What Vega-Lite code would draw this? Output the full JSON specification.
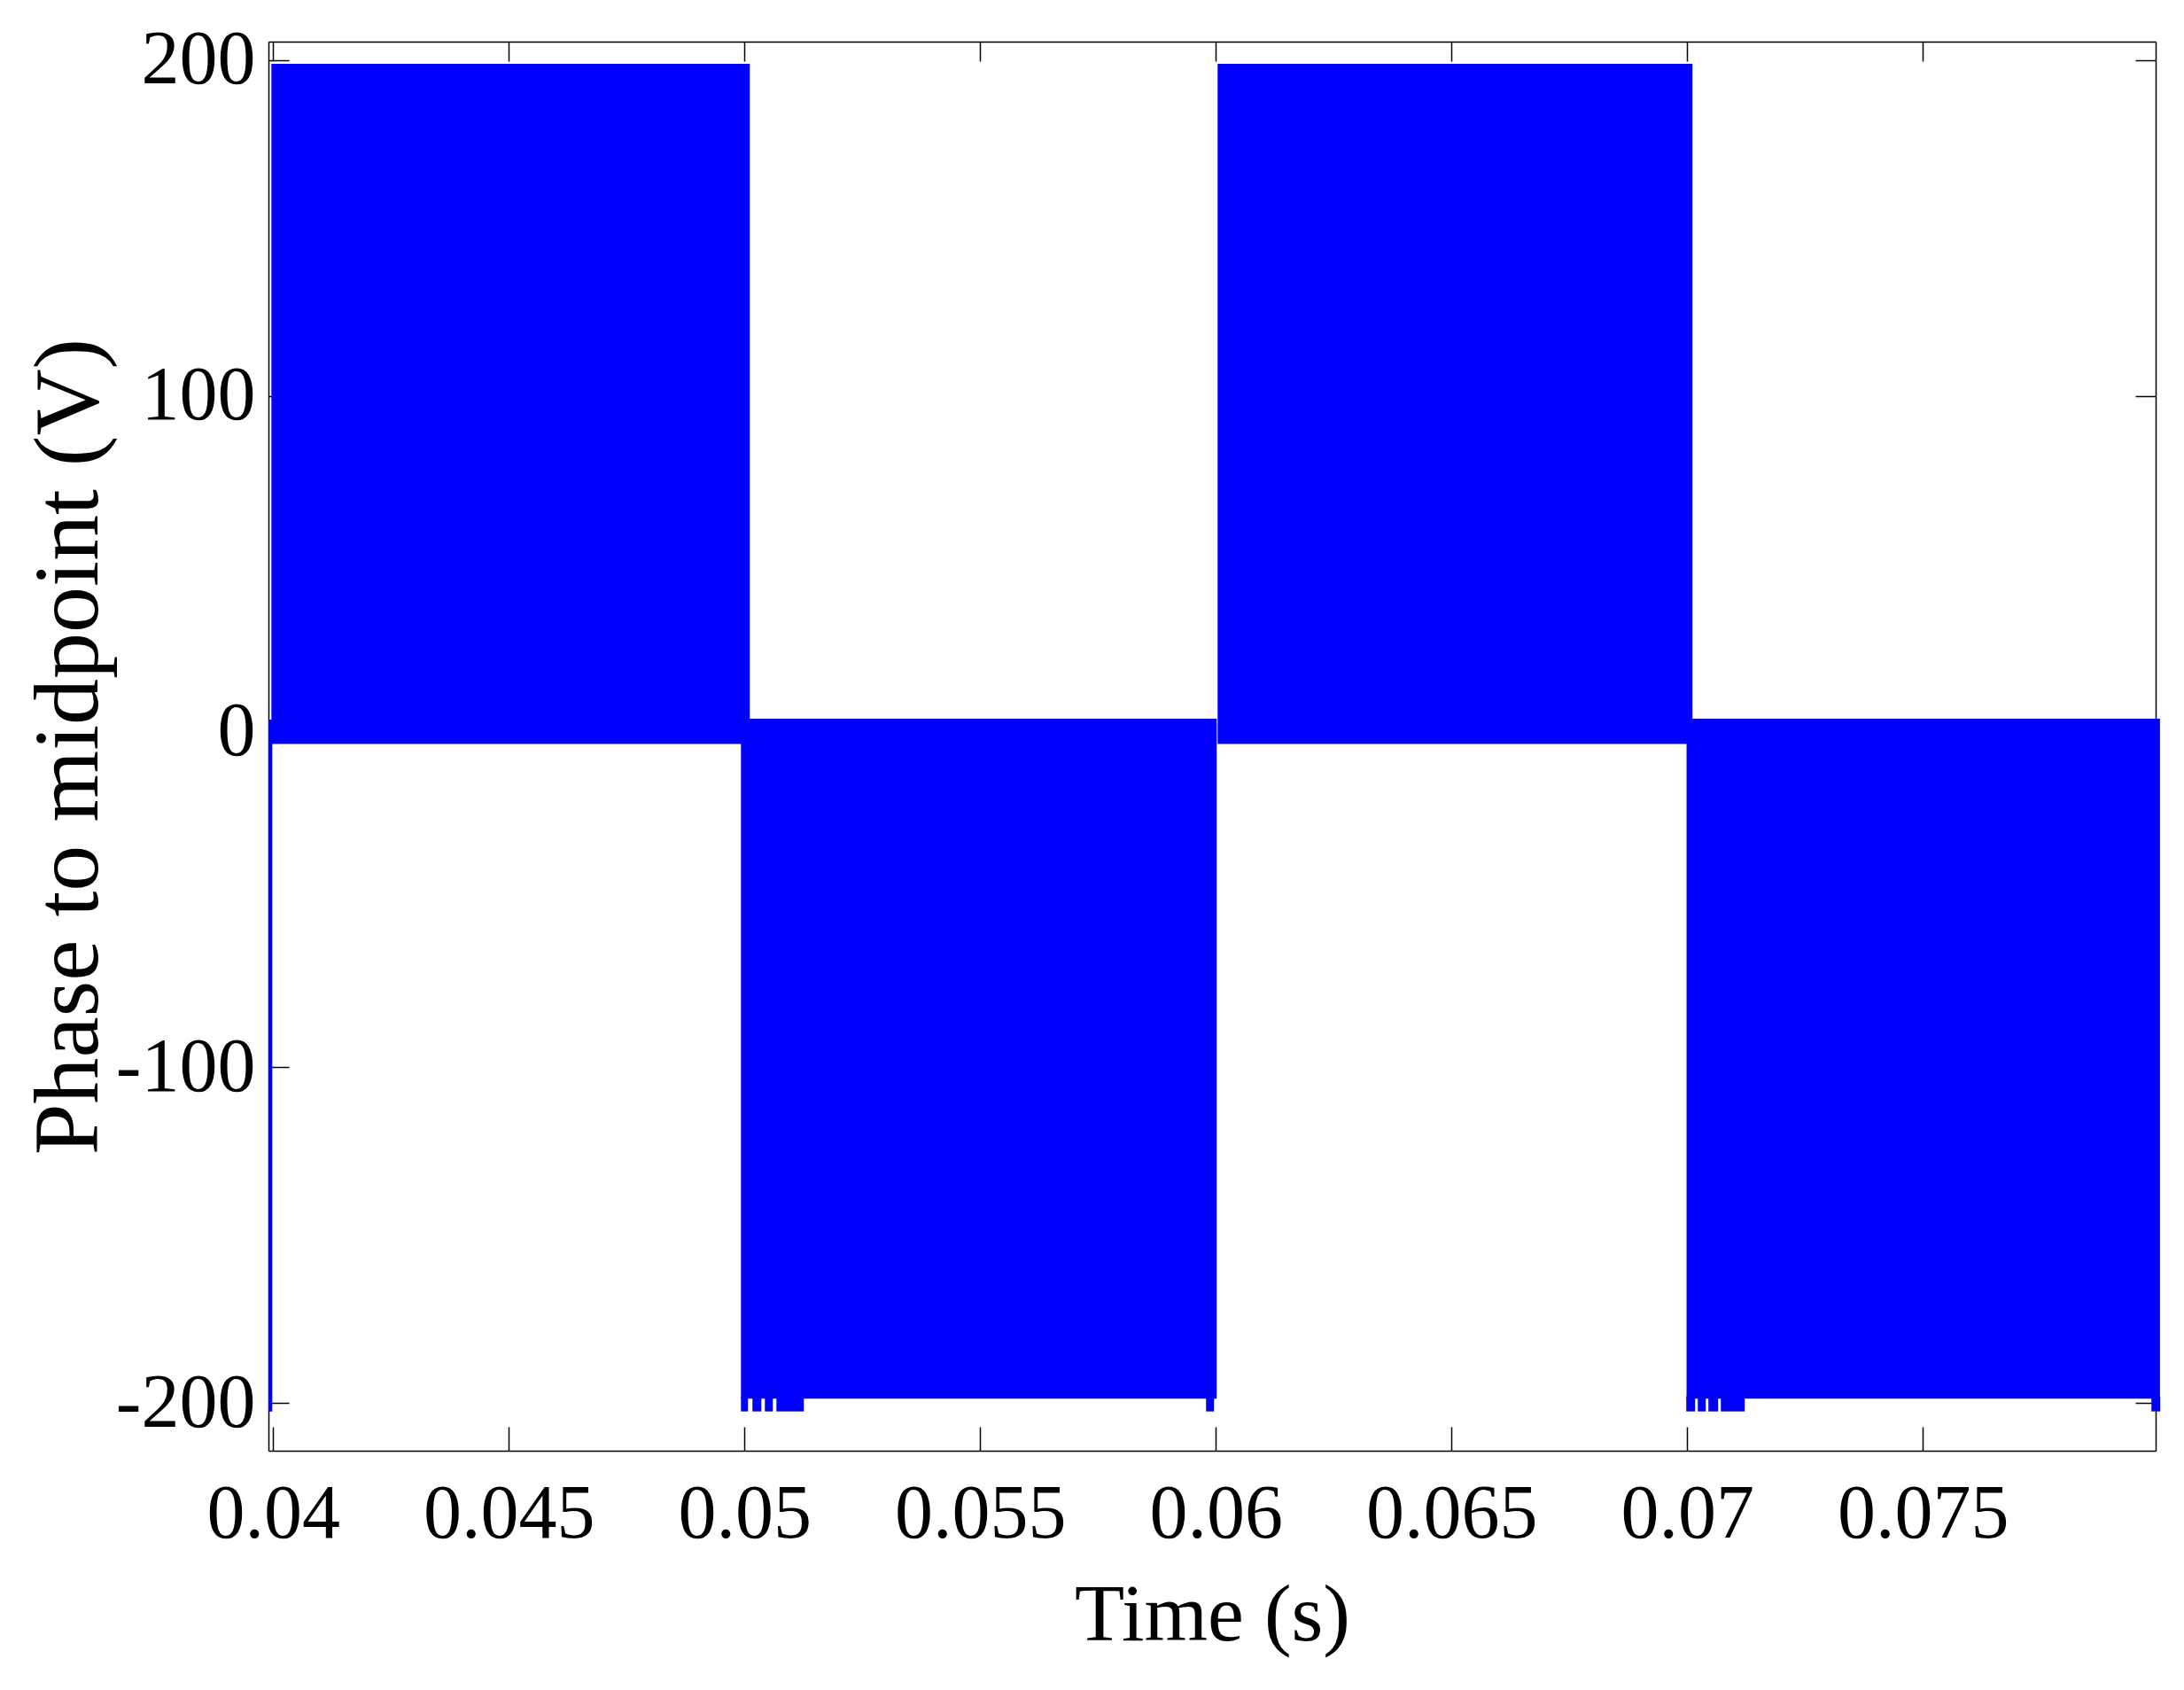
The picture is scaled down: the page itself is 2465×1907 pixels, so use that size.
{
  "$schema": "https://vega.github.io/schema/vega-lite/v6.json",
  "autosize": {"type": "none"},
  "padding": {"left": 303, "top": 47, "right": 32, "bottom": 270},
  "width": 2130,
  "height": 1590,
  "background": "white",
  "config": {
    "view": {"stroke": null},
    "axis": {
      "grid": false,
      "domainColor": "black",
      "domainWidth": 1.5,
      "tickColor": "black",
      "tickWidth": 1.5,
      "labelColor": "black",
      "labelFont": "Liberation Serif",
      "titleFont": "Liberation Serif",
      "titleColor": "black",
      "titleFontWeight": "normal",
      "labelLimit": 0,
      "labelOverlap": false,
      "labelFlush": false
    }
  },
  "data": {
    "values": [
      {"part": "pos1", "t0": 0.039962, "t1": 0.050113, "v0": -3.7, "v1": 198.9},
      {"part": "start", "t0": 0.0399, "t1": 0.039981, "v0": -202.5, "v1": 3.6},
      {"part": "neg1", "t0": 0.049925, "t1": 0.060019, "v0": -198.7, "v1": 3.8},
      {"part": "pos2", "t0": 0.060038, "t1": 0.070113, "v0": -3.7, "v1": 198.9},
      {"part": "neg2", "t0": 0.069987, "t1": 0.080032, "v0": -198.7, "v1": 3.8},
      {"part": "spike", "t0": 0.049925, "t1": 0.050075, "v0": -202.5, "v1": -198},
      {"part": "spike", "t0": 0.050169, "t1": 0.050357, "v0": -202.5, "v1": -198},
      {"part": "spike", "t0": 0.050432, "t1": 0.050602, "v0": -202.5, "v1": -198},
      {"part": "spike", "t0": 0.050677, "t1": 0.051259, "v0": -202.5, "v1": -198},
      {"part": "spike", "t0": 0.059793, "t1": 0.059962, "v0": -202.5, "v1": -198},
      {"part": "spike", "t0": 0.069981, "t1": 0.070169, "v0": -202.5, "v1": -198},
      {"part": "spike", "t0": 0.070226, "t1": 0.070395, "v0": -202.5, "v1": -198},
      {"part": "spike", "t0": 0.070451, "t1": 0.070658, "v0": -202.5, "v1": -198},
      {"part": "spike", "t0": 0.070714, "t1": 0.071222, "v0": -202.5, "v1": -198},
      {"part": "spike", "t0": 0.07985, "t1": 0.080038, "v0": -202.5, "v1": -198}
    ]
  },
  "layer": [
    {
      "mark": {"type": "rect", "color": "#0000FF", "clip": false},
      "encoding": {
        "x": {
          "field": "t0", "type": "quantitative",
          "scale": {"domain": [0.0399, 0.07994], "nice": false, "zero": false},
          "axis": {
            "orient": "bottom",
            "values": [0.04, 0.045, 0.05, 0.055, 0.06, 0.065, 0.07, 0.075],
            "format": "~g",
            "tickSize": -27,
            "labelFontSize": 86,
            "labelPadding": 56,
            "title": "Time (s)",
            "titleFontSize": 92,
            "titleY": 140,
            "titleBaseline": "top"
          }
        },
        "x2": {"field": "t1"},
        "y": {
          "field": "v0", "type": "quantitative",
          "scale": {"domain": [-214.2, 205.5], "nice": false, "zero": false},
          "axis": {
            "orient": "left",
            "values": [-200, -100, 0, 100, 200],
            "labelExpr": "toString(datum.value)",
            "tickSize": -23,
            "labelFontSize": 86,
            "labelPadding": 38,
            "title": "Phase to midpoint (V)",
            "titleFontSize": 104,
            "titleX": -172,
            "titleBaseline": "bottom"
          }
        },
        "y2": {"field": "v1"}
      }
    },
    {
      "mark": {"type": "rect", "opacity": 0},
      "encoding": {
        "x": {
          "field": "t0", "type": "quantitative",
          "axis": {
            "orient": "top",
            "values": [0.04, 0.045, 0.05, 0.055, 0.06, 0.065, 0.07, 0.075],
            "labels": false,
            "tickSize": -22,
            "title": null
          }
        },
        "x2": {"field": "t1"},
        "y": {
          "field": "v0", "type": "quantitative",
          "axis": {
            "orient": "right",
            "values": [-200, -100, 0, 100, 200],
            "labels": false,
            "tickSize": -23,
            "title": null
          }
        },
        "y2": {"field": "v1"}
      }
    }
  ],
  "resolve": {"axis": {"x": "independent", "y": "independent"}}
}
